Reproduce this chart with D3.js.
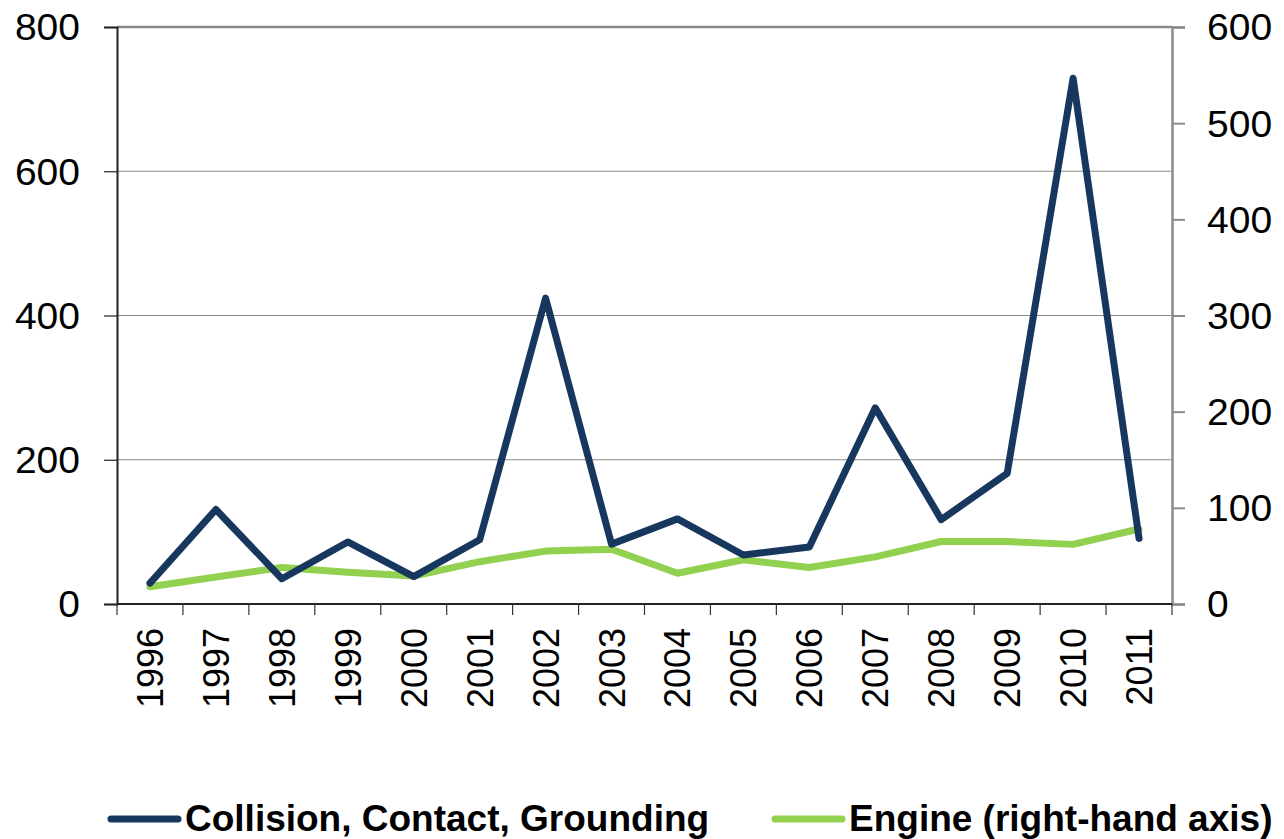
<!DOCTYPE html>
<html>
<head>
<meta charset="utf-8">
<script src="https://cdn.jsdelivr.net/npm/d3@7"></script>
<style>
  body { margin: 0; background: #fff; }
  svg text { font-family: "Liberation Sans", Arial, sans-serif; }
</style>
</head>
<body>
<svg id="chart"></svg>
<script>
// data
var years = ["1996", "1997", "1998", "1999", "2000", "2001", "2002", "2003",
  "2004", "2005", "2006", "2007", "2008", "2009", "2010", "2011"];
var collision = [29, 131, 35, 86, 38, 89, 424, 83, 118, 68, 79, 272, 117, 181, 729, 91];
var engine = [18, 28, 38, 33, 29, 44, 55, 57, 32, 46, 38, 49, 65, 65, 62, 78];
var leftTicks = [0, 200, 400, 600, 800];
var rightTicks = [0, 100, 200, 300, 400, 500, 600];
var seriesNames = ["Collision, Contact, Grounding", "Engine (right-hand axis)"];
var seriesColors = ["#17375E", "#92D050"];

var width = 1284,
  height = 839,
  plotLeft = 117,
  plotRight = 1172,
  plotTop = 27,
  plotBottom = 604;

var svg = d3.select("#chart")
  .attr("width", width)
  .attr("height", height);

var x = d3.scaleBand()
  .domain(years)
  .range([plotLeft, plotRight]);

var yL = d3.scaleLinear()
  .domain([0, 800])
  .range([plotBottom, plotTop]);

var yR = d3.scaleLinear()
  .domain([0, 600])
  .range([plotBottom, plotTop]);

// the value labels in the picture are drawn a little wide
function styleTickText(sel) {
  sel.attr("font-size", 36)
    .attr("fill", "#000")
    .attr("dy", "0.36em")
    .attr("lengthAdjust", "spacingAndGlyphs")
    .attr("textLength", function (d) { return String(d).length * 21.7; })
    .style("font-family", "Liberation Sans, Arial, sans-serif");
}

// gridlines
svg.append("g")
  .selectAll("line")
  .data(leftTicks.filter(function (d) { return d > 0 && d < 800; }))
  .join("line")
  .attr("x1", plotLeft).attr("x2", plotRight)
  .attr("y1", function (d) { return yL(d); })
  .attr("y2", function (d) { return yL(d); })
  .attr("stroke", "#8a8a8a")
  .attr("stroke-width", 1.2);

// top border
svg.append("line")
  .attr("x1", plotLeft).attr("x2", plotRight)
  .attr("y1", plotTop).attr("y2", plotTop)
  .attr("stroke", "#8a8a8a")
  .attr("stroke-width", 2.5);

// right axis
var rightAxis = svg.append("g")
  .attr("transform", "translate(" + plotRight + ",0)")
  .call(d3.axisRight(yR).tickValues(rightTicks).tickSize(13).tickPadding(22));
rightAxis.select(".domain").attr("stroke", "#8a8a8a").attr("stroke-width", 2.5);
rightAxis.selectAll(".tick line").attr("stroke", "#8a8a8a").attr("stroke-width", 2);
rightAxis.selectAll("text").call(styleTickText);

// left axis
var leftAxis = svg.append("g")
  .attr("transform", "translate(" + plotLeft + ",0)")
  .call(d3.axisLeft(yL).tickValues(leftTicks).tickSize(13).tickPadding(24));
leftAxis.select(".domain").attr("stroke", "#222").attr("stroke-width", 2);
leftAxis.selectAll(".tick line").attr("stroke", "#222").attr("stroke-width", 1.2);
leftAxis.selectAll("text").call(styleTickText);

// bottom axis: line and ticks at band boundaries
var xAxis = svg.append("g");
xAxis.append("line")
  .attr("x1", plotLeft).attr("x2", plotRight)
  .attr("y1", plotBottom).attr("y2", plotBottom)
  .attr("stroke", "#222")
  .attr("stroke-width", 2);
var bounds = years.map(function (d) { return x(d); }).concat([plotRight]);
xAxis.selectAll("line.tk")
  .data(bounds)
  .join("line")
  .attr("class", "tk")
  .attr("x1", function (d) { return d; })
  .attr("x2", function (d) { return d; })
  .attr("y1", plotBottom).attr("y2", plotBottom + 11)
  .attr("stroke", "#333")
  .attr("stroke-width", 1.2);

xAxis.selectAll("text")
  .data(years)
  .join("text")
  .attr("transform", function (d) {
    return "translate(" + (x(d) + x.bandwidth() / 2) + "," + (plotBottom + 24) + ") rotate(-90)";
  })
  .attr("text-anchor", "end")
  .attr("dy", "0.36em")
  .attr("font-size", 36)
  .attr("fill", "#000")
  .text(function (d) { return d; });

// lines
var cx = function (d, i) { return x(years[i]) + x.bandwidth() / 2; };

svg.append("path")
  .datum(engine)
  .attr("fill", "none")
  .attr("stroke", seriesColors[1])
  .attr("stroke-width", 7)
  .attr("stroke-linejoin", "round")
  .attr("stroke-linecap", "round")
  .attr("d", d3.line().x(cx).y(function (d) { return yR(d); }));

svg.append("path")
  .datum(collision)
  .attr("fill", "none")
  .attr("stroke", seriesColors[0])
  .attr("stroke-width", 7)
  .attr("stroke-linejoin", "round")
  .attr("stroke-linecap", "round")
  .attr("d", d3.line().x(cx).y(function (d) { return yL(d); }));

// legend
var legendX = [108, 772];
var legend = svg.append("g")
  .selectAll("g")
  .data(seriesNames)
  .join("g")
  .attr("transform", function (d, i) { return "translate(" + legendX[i] + ",819)"; });

legend.append("line")
  .attr("x1", 3).attr("x2", 70)
  .attr("stroke", function (d, i) { return seriesColors[i]; })
  .attr("stroke-width", 7)
  .attr("stroke-linecap", "round");

legend.append("text")
  .attr("x", 77)
  .attr("y", 12)
  .attr("font-size", 37)
  .attr("font-weight", "bold")
  .attr("fill", "#000")
  .text(function (d) { return d; });
</script>
</body>
</html>
